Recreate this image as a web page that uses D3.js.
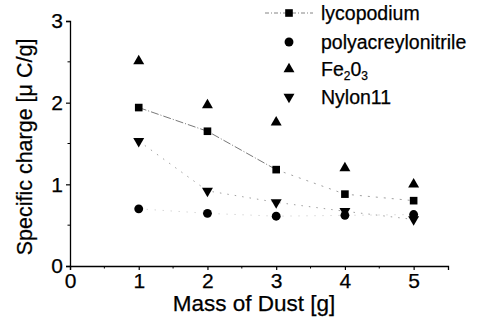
<!DOCTYPE html>
<html>
<head>
<meta charset="utf-8">
<script src="https://cdn.jsdelivr.net/npm/d3@7"></script>
<style>
  body { margin: 0; background: #fff; }
  svg { font-family: 'Liberation Sans', Arial, sans-serif; }
  text { stroke: #000; stroke-width: 0.25; }
</style>
</head>
<body>
<svg id="chart" width="477" height="323"></svg>
<script>
// data
const mass = [1, 2, 3, 4, 5]
const lycopodium = [1.94, 1.65, 1.18, 0.88, 0.8]
const polyacrylonitrile = [0.7, 0.645, 0.61, 0.62, 0.63]
const fe2o3 = [2.51, 1.97, 1.76, 1.2, 1.0]
const nylon11 = [1.53, 0.92, 0.78, 0.67, 0.57]
const xTicks = [0, 1, 2, 3, 4, 5]
const yTicks = [0, 1, 2, 3]

const svg = d3.select('#chart')

const x = d3.scaleLinear().domain([0, 5.5]).range([70, 448])
const y = d3.scaleLinear().domain([0, 3]).range([266, 21])

// axes
const xAxis = svg.append('g')
  .attr('transform', `translate(0,${y(0)})`)
  .call(d3.axisBottom(x).tickValues(xTicks).tickFormat(d3.format('d')).tickSize(4).tickPadding(3))
xAxis.append('g').selectAll('line')
  .data(d3.range(0.5, 5.5, 1))
  .enter().append('line')
  .attr('x1', (d) => x(d)).attr('x2', (d) => x(d))
  .attr('y1', 0).attr('y2', 2.5)
  .attr('stroke', '#000')

const yAxis = svg.append('g')
  .attr('transform', `translate(${x(0)},0)`)
  .call(d3.axisLeft(y).tickValues(yTicks).tickFormat(d3.format('d')).tickSize(4).tickPadding(3))
yAxis.append('g').selectAll('line')
  .data([0.5, 1.5, 2.5])
  .enter().append('line')
  .attr('y1', (d) => y(d)).attr('y2', (d) => y(d))
  .attr('x1', 0).attr('x2', -2.5)
  .attr('stroke', '#000')

svg.selectAll('.domain').attr('stroke', '#000').attr('stroke-width', 1.3)
svg.selectAll('.tick line').attr('stroke', '#000').attr('stroke-width', 1.2)
svg.selectAll('.tick text').attr('font-size', 21).attr('fill', '#000')

// axis titles
svg.append('text')
  .attr('x', 254).attr('y', 311)
  .attr('text-anchor', 'middle')
  .attr('font-size', 22.5)
  .text('Mass of Dust [g]')

svg.append('text')
  .attr('transform', 'translate(32,147) rotate(-90)')
  .attr('text-anchor', 'middle')
  .attr('font-size', 21.5)
  .text('Specific charge [\u03bc C/g]')

// connecting lines
const line = (vals) => d3.line().x((d, i) => x(mass[i])).y((d) => y(d))(vals)

svg.append('path').attr('d', line(lycopodium.slice(0, 3)))
  .attr('fill', 'none').attr('stroke', '#555').attr('stroke-width', 0.8)
  .attr('stroke-dasharray', '8,2,1,2')
svg.append('path').attr('d', d3.line().x((d, i) => x(mass[i + 2])).y((d) => y(d))(lycopodium.slice(2)))
  .attr('fill', 'none').attr('stroke', '#888').attr('stroke-width', 0.8)
  .attr('stroke-dasharray', '2,6')
svg.append('path').attr('d', line(nylon11))
  .attr('fill', 'none').attr('stroke', '#888').attr('stroke-width', 0.8)
  .attr('stroke-dasharray', '1.5,6')
svg.append('path').attr('d', line(polyacrylonitrile))
  .attr('fill', 'none').attr('stroke', '#aaa').attr('stroke-width', 0.7)
  .attr('stroke-dasharray', '1,7')

// markers
const sym = {
  square: d3.symbol().type(d3.symbolSquare).size(58),
  circle: d3.symbol().type(d3.symbolCircle).size(62),
  up: d3.symbol().type(d3.symbolTriangle).size(52),
  down: d3.symbol().type(d3.symbolTriangle).size(52),
}

function drawMarks(vals, shape, rot) {
  svg.append('g').selectAll('path')
    .data(vals)
    .enter().append('path')
    .attr('d', sym[shape])
    .attr('transform', (d, i) => `translate(${x(mass[i])},${y(d)})${rot ? ' rotate(180)' : ''}`)
    .attr('fill', '#000')
}
drawMarks(fe2o3, 'up', false)
drawMarks(nylon11, 'down', true)
drawMarks(polyacrylonitrile, 'circle', false)
drawMarks(lycopodium, 'square', false)

// legend
const legend = svg.append('g')
legend.append('line')
  .attr('x1', 265).attr('x2', 313).attr('y1', 13).attr('y2', 13)
  .attr('stroke', '#666').attr('stroke-width', 0.8).attr('stroke-dasharray', '4,2,1,2')
const legendRows = [
  { shape: 'square', y: 13, rot: false },
  { shape: 'circle', y: 42, rot: false },
  { shape: 'up', y: 69, rot: false },
  { shape: 'down', y: 97, rot: true },
]
legendRows.forEach((r) => {
  legend.append('path')
    .attr('d', sym[r.shape])
    .attr('transform', `translate(289,${r.y})${r.rot ? ' rotate(180)' : ''}`)
    .attr('fill', '#000')
})
legend.append('text').attr('x', 321).attr('y', 20).attr('font-size', 19.5).text('lycopodium')
legend.append('text').attr('x', 321).attr('y', 49).attr('font-size', 19.5).text('polyacreylonitrile')
const fe = legend.append('text').attr('x', 321).attr('y', 76).attr('font-size', 19.5)
fe.append('tspan').text('Fe')
fe.append('tspan').attr('font-size', 12).attr('dy', 4).text('2')
fe.append('tspan').attr('dy', -4).text('0')
fe.append('tspan').attr('font-size', 12).attr('dy', 4).text('3')
legend.append('text').attr('x', 321).attr('y', 104).attr('font-size', 19.5).text('Nylon11')
</script>
</body>
</html>
